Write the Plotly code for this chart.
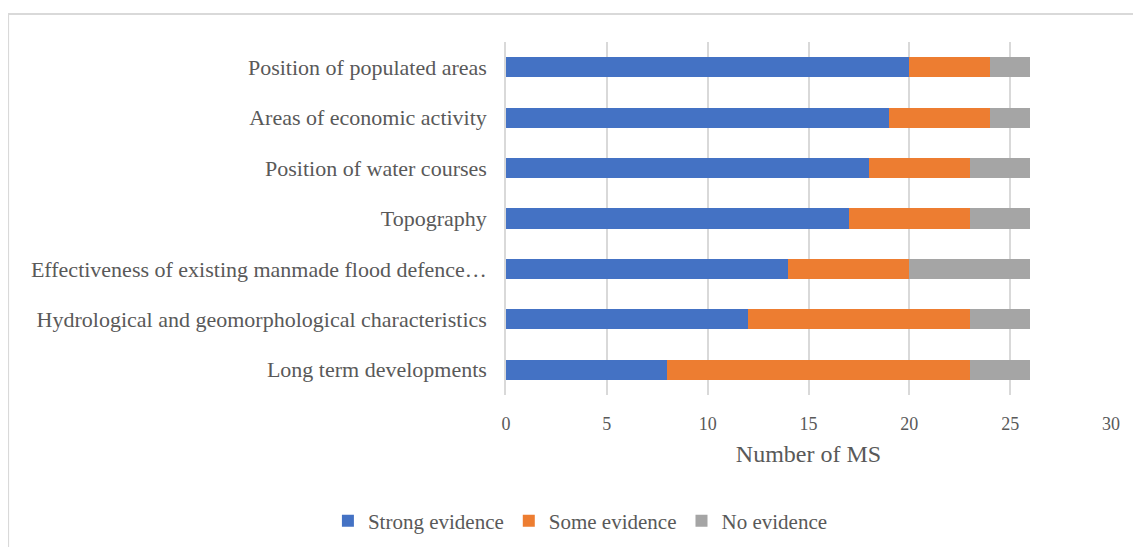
import plotly.graph_objects as go

# categories, top to bottom as drawn
categories = [
    "Position of populated areas",
    "Areas of economic activity",
    "Position of water courses",
    "Topography",
    "Effectiveness of existing manmade flood defence\u2026",
    "Hydrological and geomorphological characteristics",
    "Long term developments",
]
strong = [20, 19, 18, 17, 14, 12, 8]
some = [4, 5, 5, 6, 6, 11, 15]
none_ = [2, 2, 3, 3, 6, 3, 3]

series = [
    ("Strong evidence", strong, "#4472C4"),
    ("Some evidence", some, "#ED7D31"),
    ("No evidence", none_, "#A5A5A5"),
]

fig = go.Figure()
for name, vals, col in series:
    fig.add_trace(go.Bar(
        y=categories, x=vals, name=name, orientation="h",
        marker=dict(color=col, line=dict(width=0)),
    ))

txt = "#595959"
serif = "Times New Roman, Liberation Serif, DejaVu Serif, serif"
fig.update_layout(
    barmode="stack",
    bargap=0.6,
    width=1141, height=547,
    margin=dict(l=498, r=38, t=34, b=160),
    paper_bgcolor="white", plot_bgcolor="white",
    font=dict(family=serif, color=txt),
    showlegend=True,
    legend=dict(
        orientation="h", x=0.123, xanchor="center", y=-0.357, yanchor="middle",
        font=dict(family=serif, size=21, color=txt), traceorder="normal",
        itemwidth=30,
    ),
    xaxis=dict(
        range=[0, 30], dtick=5, showgrid=True, gridcolor="#d9d9d9", gridwidth=1.5,
        zeroline=False, ticks="", tickfont=dict(family=serif, size=18, color=txt),
        ticklabelstandoff=16,
        title=dict(text="Number of MS", font=dict(family=serif, size=24, color=txt), standoff=12),
    ),
    yaxis=dict(
        categoryorder="array", categoryarray=categories[::-1],
        showline=True, linecolor="#d9d9d9", linewidth=1.5,
        ticks="", tickfont=dict(family=serif, size=22, color=txt), ticklabelstandoff=13,
        showgrid=False,
    ),
    shapes=[dict(
        type="rect", xref="paper", yref="paper",
        x0=-0.823, x1=1.2, y0=-0.7, y1=1.079,
        line=dict(color="#d9d9d9", width=2), layer="below",
    )],
)

fig.write_html("out.html")
